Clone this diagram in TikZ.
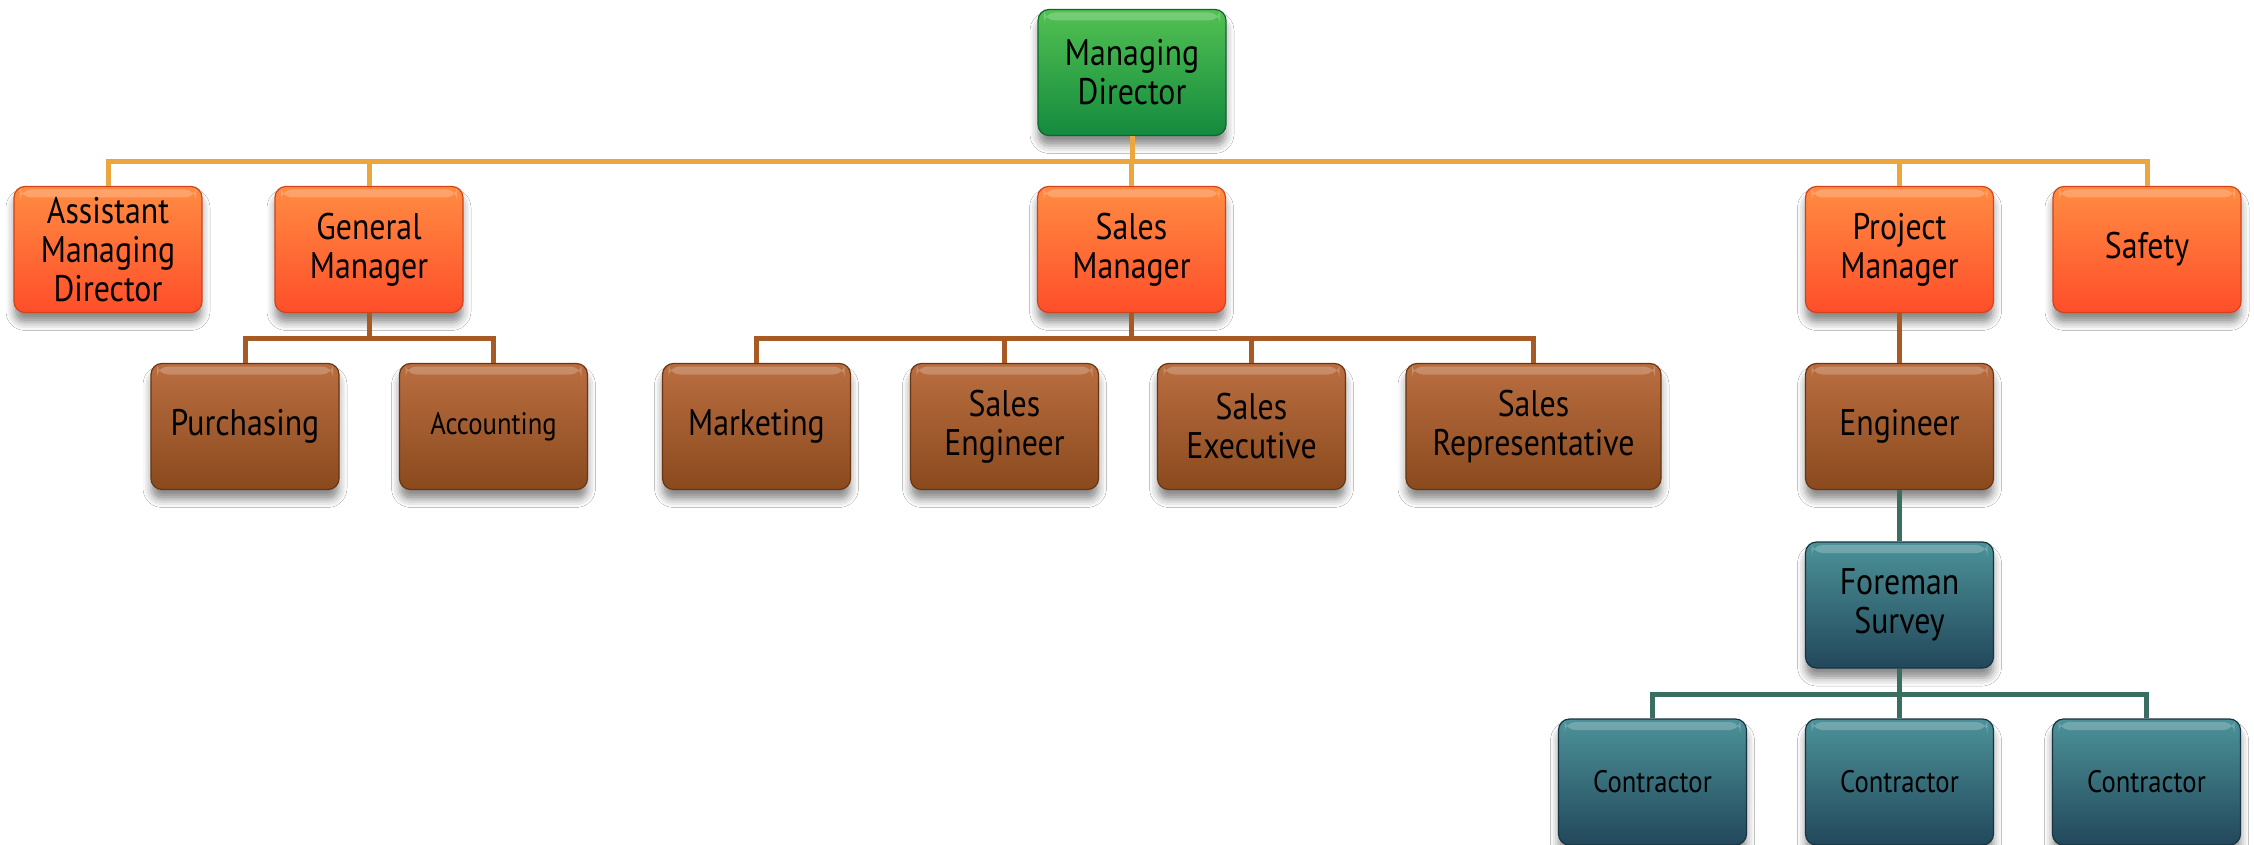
\documentclass[tikz,border=0pt]{standalone}
\usepackage{fontspec}
\setmainfont{PT Sans}[FakeStretch=0.86]
\usetikzlibrary{shadows.blur}
\definecolor{grT}{HTML}{52C152}\definecolor{grB}{HTML}{148A3E}\definecolor{grD}{HTML}{0F6430}
\definecolor{orT}{HTML}{FF8C42}\definecolor{orB}{HTML}{FF4E2A}\definecolor{orD}{HTML}{D0441C}
\definecolor{brT}{HTML}{BA6E40}\definecolor{brB}{HTML}{8A4A1E}\definecolor{brD}{HTML}{6A3510}
\definecolor{tlT}{HTML}{4C9299}\definecolor{tlB}{HTML}{22485A}\definecolor{tlD}{HTML}{183442}
\definecolor{lnOr}{HTML}{EBA640}\definecolor{lnBr}{HTML}{A85A25}\definecolor{lnTl}{HTML}{3A6E60}
\tikzset{
  box/.style={rectangle, rounded corners=11pt, minimum width=188pt, minimum height=126pt,
    inner sep=0pt, align=center, font=\fontsize{37}{39}\selectfont, line width=1.2pt,
    blur shadow={shadow xshift=0pt, shadow yshift=-10pt, shadow blur radius=8pt, shadow opacity=45},
    path picture={\fill[white,opacity=0.22] ([xshift=6pt,yshift=-3pt]path picture bounding box.north west) rectangle ([xshift=-6pt,yshift=-11pt]path picture bounding box.north east);}},
  greenbox/.style={box, top color=grT, bottom color=grB, draw=grD},
  orangebox/.style={box, top color=orT, bottom color=orB, draw=orD},
  brownbox/.style={box, top color=brT, bottom color=brB, draw=brD},
  tealbox/.style={box, top color=tlT, bottom color=tlB, draw=tlD},
  small/.style={font=\fontsize{31}{33}\selectfont},
  lineor/.style={draw=lnOr, line width=5pt},
  linebr/.style={draw=lnBr, line width=5pt},
  linetl/.style={draw=lnTl, line width=5pt},
}
\begin{document}
\begin{tikzpicture}[x=1pt,y=-1pt]
\useasboundingbox[fill=white] (0,0) rectangle (2254,845);
\node[greenbox] (md) at (1132,72.5) {Managing\\Director};
\node[orangebox] (amd) at (108,249.5) {Assistant\\Managing\\Director};
\node[orangebox] (gm) at (369,249.5) {General\\Manager};
\node[orangebox] (sm) at (1131.5,249.5) {Sales\\Manager};
\node[orangebox] (pm) at (1899.5,249.5) {Project\\Manager};
\node[orangebox] (saf) at (2147,249.5) {Safety};
\node[brownbox] (pur) at (245,426.5) {Purchasing};
\node[brownbox,small] (acc) at (493.5,426.5) {Accounting};
\node[brownbox] (mkt) at (756.5,426.5) {Marketing};
\node[brownbox] (seng) at (1004.5,426.5) {Sales\\Engineer};
\node[brownbox] (sexe) at (1251.5,426.5) {Sales\\Executive};
\node[brownbox,minimum width=255pt] (srep) at (1533.5,426.5) {Sales\\Representative};
\node[brownbox] (eng) at (1899.5,426.5) {Engineer};
\node[tealbox] (fore) at (1899.5,605) {Foreman\\Survey};
\node[tealbox,small] (c1) at (1652.5,782) {Contractor};
\node[tealbox,small] (c2) at (1899.5,782) {Contractor};
\node[tealbox,small] (c3) at (2146.5,782) {Contractor};
\foreach \c in {amd,gm,sm,pm,saf} \draw[lineor] (md.south) -- ++(0,25.5) -| (\c.north);
\foreach \c in {pur,acc} \draw[linebr] (gm.south) -- ++(0,25.5) -| (\c.north);
\foreach \c in {mkt,seng,sexe,srep} \draw[linebr] (sm.south) -- ++(0,25.5) -| (\c.north);
\draw[linebr] (pm.south) -- (eng.north);
\draw[linetl] (eng.south) -- (fore.north);
\foreach \c in {c1,c2,c3} \draw[linetl] (fore.south) -- ++(0,25.5) -| (\c.north);
\end{tikzpicture}
\end{document}
